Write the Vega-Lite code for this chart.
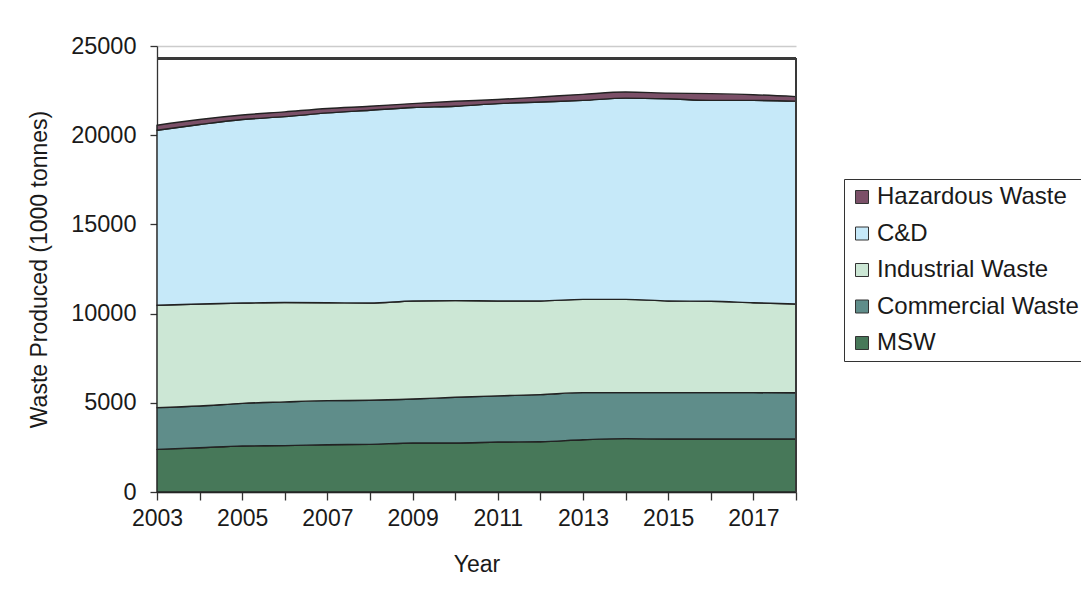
{
  "$schema": "https://vega.github.io/schema/vega-lite/v6.json",
  "autosize": {"type": "none"},
  "padding": {"left": 157, "top": 46, "right": 285, "bottom": 107},
  "width": 639,
  "height": 446,
  "background": "white",
  "config": {
    "view": {"stroke": null},
    "font": "Liberation Sans",
    "axis": {"labelFont": "Liberation Sans", "titleFont": "Liberation Sans", "labelColor": "#1a1a1a", "titleColor": "#1a1a1a", "titleFontWeight": "normal"}
  },
  "data": {
    "values": [
      {"year": 2003, "type": "MSW", "k": 1, "value": 2390},
      {"year": 2003, "type": "Commercial Waste", "k": 2, "value": 2340},
      {"year": 2003, "type": "Industrial Waste", "k": 3, "value": 5740},
      {"year": 2003, "type": "C&D", "k": 4, "value": 9810},
      {"year": 2003, "type": "Hazardous Waste", "k": 5, "value": 280},
      {"year": 2004, "type": "MSW", "k": 1, "value": 2480},
      {"year": 2004, "type": "Commercial Waste", "k": 2, "value": 2340},
      {"year": 2004, "type": "Industrial Waste", "k": 3, "value": 5720},
      {"year": 2004, "type": "C&D", "k": 4, "value": 10060},
      {"year": 2004, "type": "Hazardous Waste", "k": 5, "value": 280},
      {"year": 2005, "type": "MSW", "k": 1, "value": 2580},
      {"year": 2005, "type": "Commercial Waste", "k": 2, "value": 2390},
      {"year": 2005, "type": "Industrial Waste", "k": 3, "value": 5620},
      {"year": 2005, "type": "C&D", "k": 4, "value": 10290},
      {"year": 2005, "type": "Hazardous Waste", "k": 5, "value": 250},
      {"year": 2006, "type": "MSW", "k": 1, "value": 2600},
      {"year": 2006, "type": "Commercial Waste", "k": 2, "value": 2450},
      {"year": 2006, "type": "Industrial Waste", "k": 3, "value": 5570},
      {"year": 2006, "type": "C&D", "k": 4, "value": 10420},
      {"year": 2006, "type": "Hazardous Waste", "k": 5, "value": 270},
      {"year": 2007, "type": "MSW", "k": 1, "value": 2650},
      {"year": 2007, "type": "Commercial Waste", "k": 2, "value": 2470},
      {"year": 2007, "type": "Industrial Waste", "k": 3, "value": 5490},
      {"year": 2007, "type": "C&D", "k": 4, "value": 10640},
      {"year": 2007, "type": "Hazardous Waste", "k": 5, "value": 250},
      {"year": 2008, "type": "MSW", "k": 1, "value": 2670},
      {"year": 2008, "type": "Commercial Waste", "k": 2, "value": 2470},
      {"year": 2008, "type": "Industrial Waste", "k": 3, "value": 5450},
      {"year": 2008, "type": "C&D", "k": 4, "value": 10810},
      {"year": 2008, "type": "Hazardous Waste", "k": 5, "value": 220},
      {"year": 2009, "type": "MSW", "k": 1, "value": 2750},
      {"year": 2009, "type": "Commercial Waste", "k": 2, "value": 2460},
      {"year": 2009, "type": "Industrial Waste", "k": 3, "value": 5500},
      {"year": 2009, "type": "C&D", "k": 4, "value": 10840},
      {"year": 2009, "type": "Hazardous Waste", "k": 5, "value": 220},
      {"year": 2010, "type": "MSW", "k": 1, "value": 2750},
      {"year": 2010, "type": "Commercial Waste", "k": 2, "value": 2560},
      {"year": 2010, "type": "Industrial Waste", "k": 3, "value": 5420},
      {"year": 2010, "type": "C&D", "k": 4, "value": 10890},
      {"year": 2010, "type": "Hazardous Waste", "k": 5, "value": 280},
      {"year": 2011, "type": "MSW", "k": 1, "value": 2800},
      {"year": 2011, "type": "Commercial Waste", "k": 2, "value": 2590},
      {"year": 2011, "type": "Industrial Waste", "k": 3, "value": 5320},
      {"year": 2011, "type": "C&D", "k": 4, "value": 11060},
      {"year": 2011, "type": "Hazardous Waste", "k": 5, "value": 230},
      {"year": 2012, "type": "MSW", "k": 1, "value": 2820},
      {"year": 2012, "type": "Commercial Waste", "k": 2, "value": 2640},
      {"year": 2012, "type": "Industrial Waste", "k": 3, "value": 5250},
      {"year": 2012, "type": "C&D", "k": 4, "value": 11150},
      {"year": 2012, "type": "Hazardous Waste", "k": 5, "value": 280},
      {"year": 2013, "type": "MSW", "k": 1, "value": 2930},
      {"year": 2013, "type": "Commercial Waste", "k": 2, "value": 2640},
      {"year": 2013, "type": "Industrial Waste", "k": 3, "value": 5230},
      {"year": 2013, "type": "C&D", "k": 4, "value": 11150},
      {"year": 2013, "type": "Hazardous Waste", "k": 5, "value": 340},
      {"year": 2014, "type": "MSW", "k": 1, "value": 2990},
      {"year": 2014, "type": "Commercial Waste", "k": 2, "value": 2580},
      {"year": 2014, "type": "Industrial Waste", "k": 3, "value": 5230},
      {"year": 2014, "type": "C&D", "k": 4, "value": 11280},
      {"year": 2014, "type": "Hazardous Waste", "k": 5, "value": 340},
      {"year": 2015, "type": "MSW", "k": 1, "value": 2970},
      {"year": 2015, "type": "Commercial Waste", "k": 2, "value": 2600},
      {"year": 2015, "type": "Industrial Waste", "k": 3, "value": 5140},
      {"year": 2015, "type": "C&D", "k": 4, "value": 11330},
      {"year": 2015, "type": "Hazardous Waste", "k": 5, "value": 320},
      {"year": 2016, "type": "MSW", "k": 1, "value": 2970},
      {"year": 2016, "type": "Commercial Waste", "k": 2, "value": 2600},
      {"year": 2016, "type": "Industrial Waste", "k": 3, "value": 5120},
      {"year": 2016, "type": "C&D", "k": 4, "value": 11260},
      {"year": 2016, "type": "Hazardous Waste", "k": 5, "value": 380},
      {"year": 2017, "type": "MSW", "k": 1, "value": 2970},
      {"year": 2017, "type": "Commercial Waste", "k": 2, "value": 2600},
      {"year": 2017, "type": "Industrial Waste", "k": 3, "value": 5040},
      {"year": 2017, "type": "C&D", "k": 4, "value": 11340},
      {"year": 2017, "type": "Hazardous Waste", "k": 5, "value": 320},
      {"year": 2018, "type": "MSW", "k": 1, "value": 2970},
      {"year": 2018, "type": "Commercial Waste", "k": 2, "value": 2590},
      {"year": 2018, "type": "Industrial Waste", "k": 3, "value": 4980},
      {"year": 2018, "type": "C&D", "k": 4, "value": 11370},
      {"year": 2018, "type": "Hazardous Waste", "k": 5, "value": 250}
    ]
  },
  "layer": [
    {
      "mark": {"type": "area", "interpolate": "monotone", "stroke": "#222222", "strokeWidth": 1.4, "strokeJoin": "round"},
      "encoding": {
        "x": {
          "field": "year", "type": "quantitative",
          "scale": {"domain": [2003, 2018], "nice": false, "zero": false},
          "axis": {
            "title": "Year",
            "values": [2003, 2004, 2005, 2006, 2007, 2008, 2009, 2010, 2011, 2012, 2013, 2014, 2015, 2016, 2017, 2018],
            "format": "d",
            "labelExpr": "datum.value % 2 == 1 ? datum.label : ''",
            "labelFontSize": 23, "titleFontSize": 23,
            "tickSize": 8, "tickColor": "#333333", "domainColor": "#333333", "tickWidth": 1.3, "domainWidth": 1.3,
            "labelPadding": 7, "titlePadding": 23, "grid": false, "labelFlush": false, "labelOverlap": false
          }
        },
        "y": {
          "field": "value", "type": "quantitative", "stack": "zero",
          "scale": {"domain": [0, 25000], "nice": false},
          "axis": {
            "title": "Waste Produced (1000 tonnes)",
            "values": [0, 5000, 10000, 15000, 20000, 25000],
            "format": "d",
            "labelFontSize": 23.5, "titleFontSize": 23,
            "tickSize": 7, "tickColor": "#333333", "domainColor": "#333333", "tickWidth": 1.3, "domainWidth": 1.3,
            "labelPadding": 14, "titlePadding": 19,
            "grid": true, "gridColor": "#cccccc", "gridWidth": 1.3
          }
        },
        "color": {
          "field": "type", "type": "nominal",
          "scale": {
            "domain": ["Hazardous Waste", "C&D", "Industrial Waste", "Commercial Waste", "MSW"],
            "range": ["#7b5068", "#c6e9f9", "#cce7d5", "#5f8d8a", "#477859"]
          },
          "legend": {
            "title": null,
            "orient": "none", "legendX": 687, "legendY": 133,
            "strokeColor": "#333333", "padding": 6, "fillColor": "white",
            "symbolType": "square", "symbolSize": 169, "symbolStrokeColor": "#333333", "symbolStrokeWidth": 1, "symbolOpacity": 1,
            "labelFont": "Liberation Sans", "labelFontSize": 24, "labelColor": "#1a1a1a", "labelLimit": 400, "labelOffset": 3,
            "rowPadding": 12.5
          }
        },
        "order": {"field": "k", "type": "quantitative", "sort": "ascending"}
      }
    },
    {
      "mark": {"type": "rule", "color": "#3a3a3a", "strokeWidth": 1.8},
      "encoding": {"y": {"datum": 24300}}
    },
    {
      "mark": {"type": "rule", "color": "#3a3a3a", "strokeWidth": 1.4},
      "encoding": {"x": {"datum": 2018}, "y": {"datum": 0}, "y2": {"datum": 24300}}
    }
  ]
}
